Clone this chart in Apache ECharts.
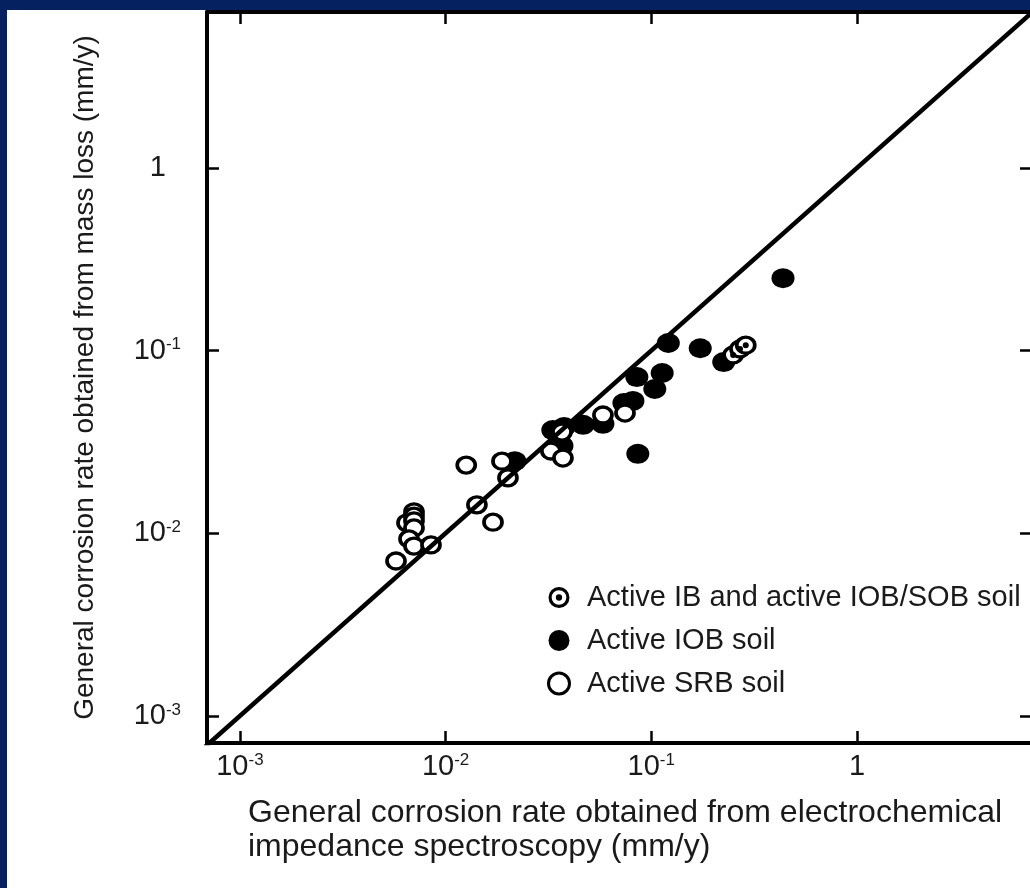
<!DOCTYPE html>
<html>
<head>
<meta charset="utf-8">
<title>General corrosion rate: mass loss vs EIS</title>
<script src="https://cdn.jsdelivr.net/npm/echarts@6.0.0/dist/echarts.min.js"></script>
<style>
  html, body { margin: 0; padding: 0; width: 1030px; height: 888px; overflow: hidden; background: #052160; }
  #chart { position: absolute; left: 7px; top: 10px; width: 1023px; height: 878px; background: #fff; }
</style>
</head>
<body>
<div id="chart"></div>
<script>
// decades that get a label on both axes
var tickExps = [-3, -2, -1, 0];

// [EIS rate, mass loss rate] in mm/y
var ibPoints = [[0.250, 0.0946], [0.270, 0.102], [0.288, 0.107]];
var iobPoints = [
  [0.437, 0.249], [0.121, 0.110], [0.173, 0.103], [0.0851, 0.0716],
  [0.113, 0.0754], [0.104, 0.0616], [0.0814, 0.0530], [0.0736, 0.0516],
  [0.225, 0.0865], [0.0582, 0.0397], [0.0466, 0.0392], [0.0377, 0.0382],
  [0.0332, 0.0367], [0.0217, 0.0248], [0.0860, 0.0272], [0.0368, 0.0301]
];
var srbPoints = [
  [0.00574, 0.00705], [0.00649, 0.0114], [0.00702, 0.0131], [0.00702, 0.0124],
  [0.00702, 0.0117], [0.00702, 0.0107], [0.00664, 0.00931], [0.00702, 0.00851],
  [0.00849, 0.00863], [0.0126, 0.0236], [0.0142, 0.0143], [0.0170, 0.0115],
  [0.0188, 0.0248], [0.0201, 0.0201], [0.0325, 0.0282], [0.0372, 0.0258],
  [0.0368, 0.0358], [0.0582, 0.0444], [0.0745, 0.0455]
];
// y = x
var parityLine = [[0.0005, 0.0005], [10, 10]];

var legendNames = ['Active IB and active IOB/SOB soil', 'Active IOB soil', 'Active SRB soil'];
var xTitle = 'General corrosion rate obtained from electrochemical\nimpedance spectroscopy (mm/y)';
var yTitle = 'General corrosion rate obtained from mass loss (mm/y)';

var FONT = '"Liberation Sans", Arial, Helvetica, sans-serif';
var TEXT = '#1a1a1a';
var ELLIPSE = 'path://M1,0A1,1,0,1,1,-1,0A1,1,0,1,1,1,0Z';
var RING_DOT = 'path://M10,0A10,10,0,1,1,-10,0A10,10,0,1,1,10,0Z' +
  'M7,0A7,7,0,1,0,-7,0A7,7,0,1,0,7,0Z' +
  'M3,0A3,3,0,1,1,-3,0A3,3,0,1,1,3,0Z';

var labelRich = {
  b: { fontSize: 29, fontFamily: FONT, color: TEXT },
  s: { fontSize: 17, fontFamily: FONT, color: TEXT, verticalAlign: 'top' },
  gap: { fontSize: 17, width: 15 }
};

function expLabel(v, padOne) {
  var lg = Math.log(v) / Math.LN10;
  var e = Math.round(lg);
  if (Math.abs(lg - e) > 1e-6 || tickExps.indexOf(e) < 0) return '';
  if (e === 0) return padOne ? '{b|1}{gap| }' : '{b|1}';
  return '{b|10}{s|' + e + '}';
}

function makeAxis(pos, min, max, showLabel, isY) {
  return {
    type: 'log',
    logBase: 10,
    position: pos,
    min: min,
    max: max,
    axisLine: { show: true, onZero: false, lineStyle: { color: '#000', width: 4 } },
    axisTick: { show: true, inside: true, length: 12, lineStyle: { color: '#000', width: 2.5 } },
    minorTick: { show: false },
    splitLine: { show: false },
    axisLabel: {
      show: showLabel,
      margin: isY ? 26 : 9,
      showMinLabel: false,
      showMaxLabel: false,
      rich: labelRich,
      formatter: function (v) { return expLabel(v, isY); }
    }
  };
}

var xMin = Math.pow(10, -3.16), xMax = Math.pow(10, 0.851);
var yMin = Math.pow(10, -3.148), yMax = Math.pow(10, 0.853);

var yLeft = makeAxis('left', yMin, yMax, true, true);
yLeft.name = yTitle;
yLeft.nameLocation = 'middle';
yLeft.nameGap = 108;
yLeft.nameTextStyle = { fontSize: 28, fontFamily: FONT, color: TEXT };

var chart = echarts.init(document.getElementById('chart'));
chart.setOption({
  animation: false,
  backgroundColor: '#fff',
  grid: { left: 200, top: 2, right: -2, bottom: 145, containLabel: false, outerBoundsMode: 'none' },
  xAxis: [makeAxis('bottom', xMin, xMax, true, false), makeAxis('top', xMin, xMax, false, false)],
  yAxis: [yLeft, makeAxis('right', yMin, yMax, false, true)],
  legend: {
    orient: 'vertical',
    left: 535,
    top: 568,
    itemWidth: 24,
    itemHeight: 21,
    itemGap: 14,
    selectedMode: false,
    textStyle: { fontSize: 29, fontFamily: FONT, color: TEXT, padding: [0, 0, 0, 11] },
    data: [
      { name: legendNames[0], icon: RING_DOT, itemStyle: { color: '#000', borderWidth: 0, opacity: 1 } },
      { name: legendNames[1], itemStyle: { opacity: 1 } },
      { name: legendNames[2], itemStyle: { borderWidth: 3, opacity: 1 } }
    ]
  },
  graphic: [{
    type: 'text',
    left: 241,
    top: 786,
    silent: true,
    style: { text: xTitle, fontSize: 32, fontFamily: FONT, fill: TEXT, lineHeight: 34 }
  }],
  series: [
    {
      type: 'line', data: parityLine, symbol: 'none', silent: true, clip: true,
      lineStyle: { color: '#000', width: 4.5 }
    },
    {
      name: legendNames[1], type: 'scatter', data: iobPoints, silent: true,
      symbol: ELLIPSE, symbolSize: [23, 20], itemStyle: { color: '#000', opacity: 1 }
    },
    {
      name: legendNames[2], type: 'scatter', data: srbPoints, silent: true,
      symbol: ELLIPSE, symbolSize: [18, 16],
      itemStyle: { color: '#fff', borderColor: '#000', borderWidth: 3.5, opacity: 1 }
    },
    {
      name: legendNames[0], type: 'scatter', data: ibPoints, silent: true,
      symbol: ELLIPSE, symbolSize: [18, 16],
      itemStyle: { color: '#fff', borderColor: '#000', borderWidth: 3.5, opacity: 1 }
    },
    {
      // centre dot of the IB markers
      name: legendNames[0], type: 'scatter', data: ibPoints, silent: true,
      symbol: 'circle', symbolSize: 6, itemStyle: { color: '#000', opacity: 1 }
    }
  ]
});
</script>
</body>
</html>
